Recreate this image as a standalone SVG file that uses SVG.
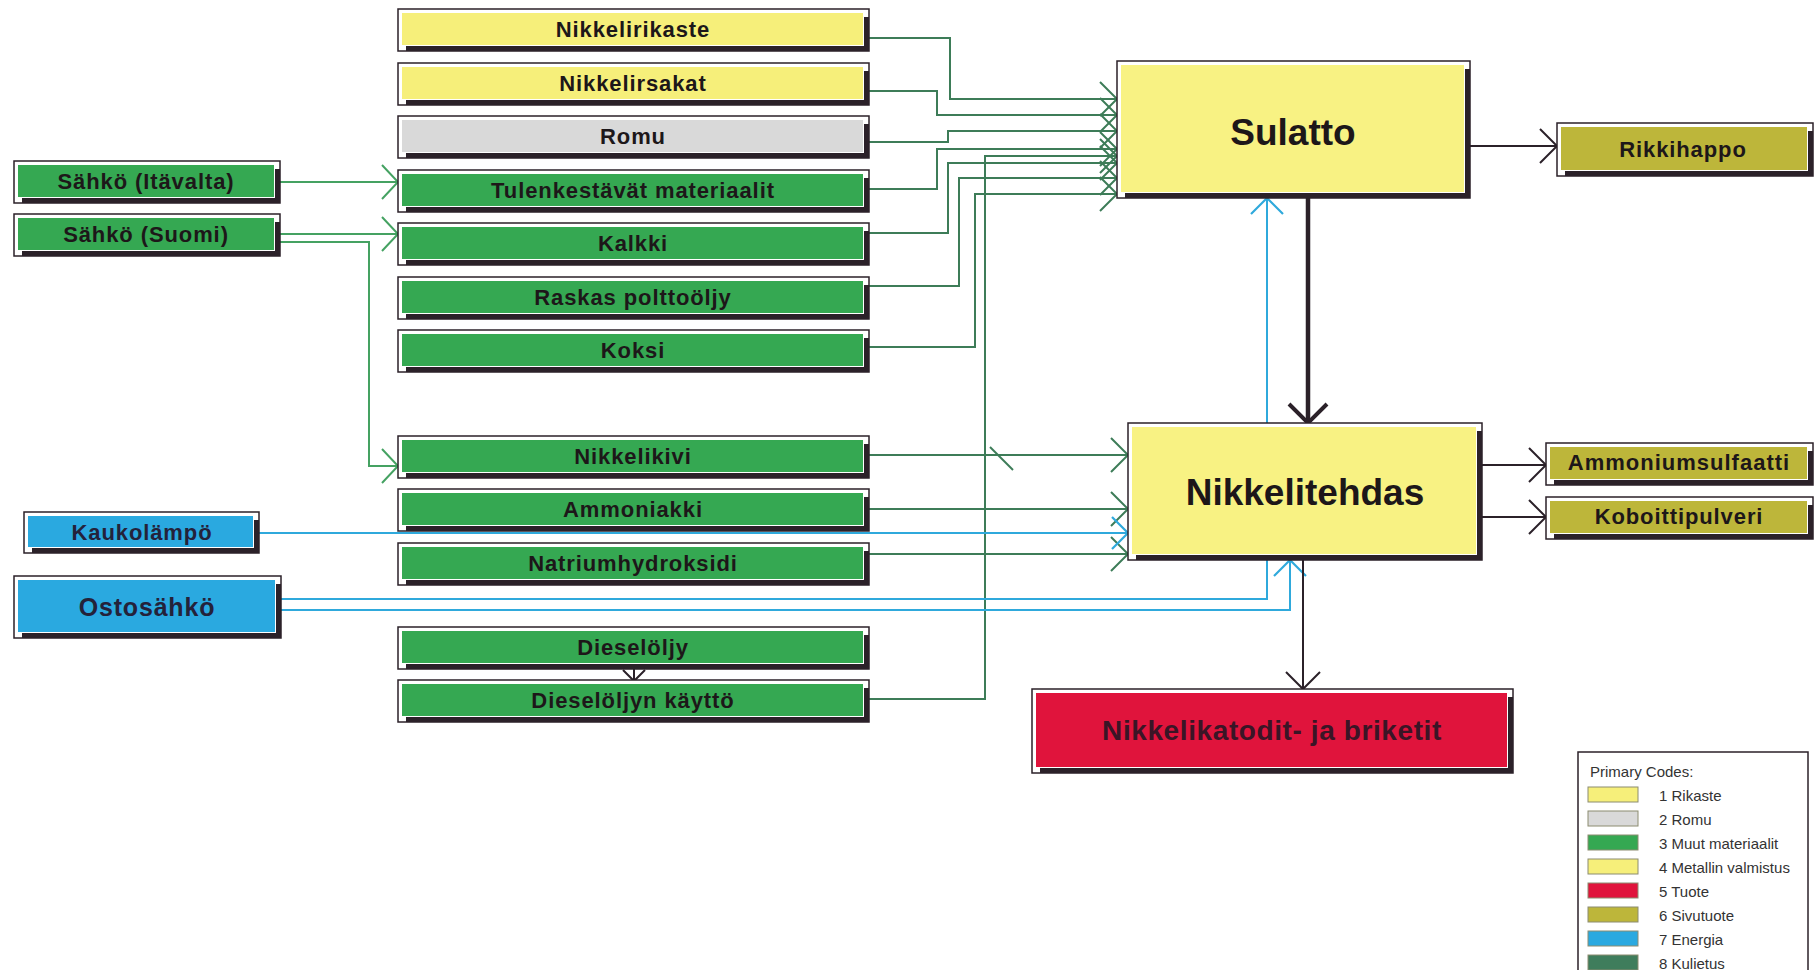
<svg xmlns="http://www.w3.org/2000/svg" width="1814" height="970" viewBox="0 0 1814 970">
  <style>
    .frame { fill: #ffffff; stroke: #2b2129; stroke-width: 1.5; }
    .shade { fill: #2b2129; }
    .c-yel { fill: #f6ef7a; }
    .c-yel2 { fill: #f8f283; }
    .c-gry { fill: #d9d9d9; }
    .c-grn { fill: #35a852; }
    .c-blu { fill: #2aa9e0; }
    .c-red { fill: #e0143c; }
    .c-olv { fill: #bdb63a; }
    .c-dgr { fill: #3f7d5c; }
    .lbl { font-family: "Liberation Sans", Arial, sans-serif; font-weight: bold; font-size: 22px; fill: #1d1719; text-anchor: middle; letter-spacing: 0.9px; }
    .big { font-size: 37px; letter-spacing: 0; }
    .prod { font-size: 28px; letter-spacing: 0.6px; fill: #3a1526; }
    .mid { font-size: 25px; letter-spacing: 0.8px; fill: #24223a; }
    .nav { fill: #24223a; }
    .wire { fill: none; stroke-width: 2; }
    .w-g { stroke: #3d7c58; marker-end: url(#ah-g); }
    .w-lg { stroke: #45a262; marker-end: url(#ah-lg); }
    .w-b { stroke: #2fa9dc; marker-end: url(#ah-b); }
    .w-d { stroke: #2b2129; marker-end: url(#ah-d); }
    .w-dk { stroke: #2b2129; stroke-width: 4.5; marker-end: url(#ah-dk); }
    .w-s { stroke: #2b2129; marker-end: url(#ah-s); }
    .legend { fill: #ffffff; stroke: #2b2129; stroke-width: 1.5; }
    .sw { stroke: #8c8c70; stroke-width: 1; }
    .ltx { font-family: "Liberation Sans", Arial, sans-serif; font-size: 15px; fill: #333333; }
  </style>
  <defs>
    <marker id="ah-g" markerUnits="userSpaceOnUse" viewBox="-20 -20 40 40" markerWidth="40" markerHeight="40" refX="0" refY="0" orient="auto">
      <path d="M-17,-17 L0,0 L-17,17" fill="none" stroke="#3d7c58" stroke-width="2"/>
    </marker>
    <marker id="ah-lg" markerUnits="userSpaceOnUse" viewBox="-20 -20 40 40" markerWidth="40" markerHeight="40" refX="0" refY="0" orient="auto">
      <path d="M-16,-17 L0,0 L-16,17" fill="none" stroke="#45a262" stroke-width="2"/>
    </marker>
    <marker id="ah-b" markerUnits="userSpaceOnUse" viewBox="-20 -20 40 40" markerWidth="40" markerHeight="40" refX="0" refY="0" orient="auto">
      <path d="M-16,-16 L0,0 L-16,16" fill="none" stroke="#2fa9dc" stroke-width="2.2"/>
    </marker>
    <marker id="ah-d" markerUnits="userSpaceOnUse" viewBox="-20 -20 40 40" markerWidth="40" markerHeight="40" refX="0" refY="0" orient="auto">
      <path d="M-17,-17 L0,0 L-17,17" fill="none" stroke="#2b2129" stroke-width="2"/>
    </marker>
    <marker id="ah-dk" markerUnits="userSpaceOnUse" viewBox="-22 -22 44 44" markerWidth="44" markerHeight="44" refX="0" refY="0" orient="auto">
      <path d="M-19,-19 L0,0 L-19,19" fill="none" stroke="#2b2129" stroke-width="4"/>
    </marker>
    <marker id="ah-s" markerUnits="userSpaceOnUse" viewBox="-12 -12 24 24" markerWidth="24" markerHeight="24" refX="0" refY="0" orient="auto">
      <path d="M-11,-11 L0,0 L-11,11" fill="none" stroke="#2b2129" stroke-width="2"/>
    </marker>
  </defs>

  <rect width="1814" height="970" fill="#ffffff"/>

  <!-- connectors -->
  <g id="connectors">
    <!-- inputs to Sulatto -->
    <path class="wire w-g" d="M869,38 H950 V99 H1117"/>
    <path class="wire w-g" d="M869,91 H937 V115 H1117"/>
    <path class="wire w-g" d="M869,142 H948 V131 H1117"/>
    <path class="wire w-g" d="M869,189 H937 V149 H1117"/>
    <path class="wire w-g" d="M869,699 H985 V156 H1117"/>
    <path class="wire w-g" d="M869,233 H948 V163 H1117"/>
    <path class="wire w-g" d="M869,286 H959 V178 H1117"/>
    <path class="wire w-g" d="M869,347 H975 V194 H1117"/>
    <!-- inputs to Nikkelitehdas -->
    <path class="wire w-g" d="M869,455 H1128"/>
    <path class="wire w-g" d="M869,509 H1128"/>
    <path class="wire w-g" d="M869,554 H1128"/>
    <path class="wire" stroke="#3d7c58" d="M990,447 L1013,470"/>
    <!-- electricity feeds -->
    <path class="wire w-lg" d="M280,182 H398"/>
    <path class="wire w-lg" d="M280,234 H398"/>
    <path class="wire w-lg" d="M280,242 H369 V466 H398"/>
    <!-- energy -->
    <path class="wire w-b" d="M259,533 H1128"/>
    <path class="wire w-b" d="M281,599 H1267 V198"/>
    <path class="wire w-b" d="M281,610 H1290 V560"/>
    <!-- process flow and outputs -->
    <path class="wire w-dk" d="M1308,198 V423"/>
    <path class="wire w-d" d="M1470,146 H1557"/>
    <path class="wire w-d" d="M1482,465 H1546"/>
    <path class="wire w-d" d="M1482,517 H1546"/>
    <path class="wire w-d" d="M1303,560 V689"/>
    <path class="wire w-s" d="M634,669 V681"/>
  </g>

  <!-- left column: materials -->
  <g id="n-nikkelirikaste">
    <rect class="frame" x="398" y="9" width="471" height="42"/>
    <rect class="c-yel" x="402" y="13" width="461" height="32"/>
    <rect class="shade" x="864" y="17" width="5" height="34"/><rect class="shade" x="406" y="46" width="463" height="5"/>
    <text class="lbl" x="633" y="37">Nikkelirikaste</text>
  </g>
  <g id="n-nikkelirsakat">
    <rect class="frame" x="398" y="63" width="471" height="42"/>
    <rect class="c-yel" x="402" y="67" width="461" height="32"/>
    <rect class="shade" x="864" y="71" width="5" height="34"/><rect class="shade" x="406" y="100" width="463" height="5"/>
    <text class="lbl" x="633" y="91">Nikkelirsakat</text>
  </g>
  <g id="n-romu">
    <rect class="frame" x="398" y="116" width="471" height="42"/>
    <rect class="c-gry" x="402" y="120" width="461" height="32"/>
    <rect class="shade" x="864" y="124" width="5" height="34"/><rect class="shade" x="406" y="153" width="463" height="5"/>
    <text class="lbl" x="633" y="144">Romu</text>
  </g>
  <g id="n-tulenkestavat">
    <rect class="frame" x="398" y="170" width="471" height="42"/>
    <rect class="c-grn" x="402" y="174" width="461" height="32"/>
    <rect class="shade" x="864" y="178" width="5" height="34"/><rect class="shade" x="406" y="207" width="463" height="5"/>
    <text class="lbl" x="633" y="198">Tulenkestävät materiaalit</text>
  </g>
  <g id="n-kalkki">
    <rect class="frame" x="398" y="223" width="471" height="42"/>
    <rect class="c-grn" x="402" y="227" width="461" height="32"/>
    <rect class="shade" x="864" y="231" width="5" height="34"/><rect class="shade" x="406" y="260" width="463" height="5"/>
    <text class="lbl" x="633" y="251">Kalkki</text>
  </g>
  <g id="n-raskas">
    <rect class="frame" x="398" y="277" width="471" height="42"/>
    <rect class="c-grn" x="402" y="281" width="461" height="32"/>
    <rect class="shade" x="864" y="285" width="5" height="34"/><rect class="shade" x="406" y="314" width="463" height="5"/>
    <text class="lbl" x="633" y="305">Raskas polttoöljy</text>
  </g>
  <g id="n-koksi">
    <rect class="frame" x="398" y="330" width="471" height="42"/>
    <rect class="c-grn" x="402" y="334" width="461" height="32"/>
    <rect class="shade" x="864" y="338" width="5" height="34"/><rect class="shade" x="406" y="367" width="463" height="5"/>
    <text class="lbl" x="633" y="358">Koksi</text>
  </g>
  <g id="n-nikkelikivi">
    <rect class="frame" x="398" y="436" width="471" height="42"/>
    <rect class="c-grn" x="402" y="440" width="461" height="32"/>
    <rect class="shade" x="864" y="444" width="5" height="34"/><rect class="shade" x="406" y="473" width="463" height="5"/>
    <text class="lbl" x="633" y="464">Nikkelikivi</text>
  </g>
  <g id="n-ammoniakki">
    <rect class="frame" x="398" y="489" width="471" height="42"/>
    <rect class="c-grn" x="402" y="493" width="461" height="32"/>
    <rect class="shade" x="864" y="497" width="5" height="34"/><rect class="shade" x="406" y="526" width="463" height="5"/>
    <text class="lbl" x="633" y="517">Ammoniakki</text>
  </g>
  <g id="n-natrium">
    <rect class="frame" x="398" y="543" width="471" height="42"/>
    <rect class="c-grn" x="402" y="547" width="461" height="32"/>
    <rect class="shade" x="864" y="551" width="5" height="34"/><rect class="shade" x="406" y="580" width="463" height="5"/>
    <text class="lbl" x="633" y="571">Natriumhydroksidi</text>
  </g>
  <g id="n-dieselolju">
    <rect class="frame" x="398" y="627" width="471" height="42"/>
    <rect class="c-grn" x="402" y="631" width="461" height="32"/>
    <rect class="shade" x="864" y="635" width="5" height="34"/><rect class="shade" x="406" y="664" width="463" height="5"/>
    <text class="lbl" x="633" y="655">Dieselöljy</text>
  </g>
  <g id="n-dieselkaytto">
    <rect class="frame" x="398" y="680" width="471" height="42"/>
    <rect class="c-grn" x="402" y="684" width="461" height="32"/>
    <rect class="shade" x="864" y="688" width="5" height="34"/><rect class="shade" x="406" y="717" width="463" height="5"/>
    <text class="lbl" x="633" y="708">Dieselöljyn käyttö</text>
  </g>

  <!-- far-left: energy sources -->
  <g id="n-sahko-itavalta">
    <rect class="frame" x="14" y="161" width="266" height="42"/>
    <rect class="c-grn" x="18" y="165" width="256" height="32"/>
    <rect class="shade" x="275" y="169" width="5" height="34"/><rect class="shade" x="22" y="198" width="258" height="5"/>
    <text class="lbl" x="146" y="189">Sähkö (Itävalta)</text>
  </g>
  <g id="n-sahko-suomi">
    <rect class="frame" x="14" y="214" width="266" height="42"/>
    <rect class="c-grn" x="18" y="218" width="256" height="32"/>
    <rect class="shade" x="275" y="222" width="5" height="34"/><rect class="shade" x="22" y="251" width="258" height="5"/>
    <text class="lbl" x="146" y="242">Sähkö (Suomi)</text>
  </g>
  <g id="n-kaukolampo">
    <rect class="frame" x="24" y="512" width="235" height="41"/>
    <rect class="c-blu" x="28" y="516" width="225" height="31"/>
    <rect class="shade" x="254" y="520" width="5" height="33"/><rect class="shade" x="32" y="548" width="227" height="5"/>
    <text class="lbl nav" x="142" y="540">Kaukolämpö</text>
  </g>
  <g id="n-ostosahko">
    <rect class="frame" x="14" y="576" width="267" height="62"/>
    <rect class="c-blu" x="18" y="580" width="257" height="52"/>
    <rect class="shade" x="276" y="584" width="5" height="54"/><rect class="shade" x="22" y="633" width="259" height="5"/>
    <text class="lbl mid" x="147" y="616">Ostosähkö</text>
  </g>

  <!-- process units -->
  <g id="n-sulatto">
    <rect class="frame" x="1117" y="61" width="353" height="137"/>
    <rect class="c-yel2" x="1121" y="65" width="343" height="127"/>
    <rect class="shade" x="1465" y="69" width="5" height="129"/><rect class="shade" x="1125" y="193" width="345" height="5"/>
    <text class="lbl big" x="1293" y="145">Sulatto</text>
  </g>
  <g id="n-nikkelitehdas">
    <rect class="frame" x="1128" y="423" width="354" height="137"/>
    <rect class="c-yel2" x="1132" y="427" width="344" height="127"/>
    <rect class="shade" x="1477" y="431" width="5" height="129"/><rect class="shade" x="1136" y="555" width="346" height="5"/>
    <text class="lbl big" x="1305" y="505">Nikkelitehdas</text>
  </g>
  <g id="n-katodit">
    <rect class="frame" x="1032" y="689" width="481" height="84"/>
    <rect class="c-red" x="1036" y="693" width="471" height="74"/>
    <rect class="shade" x="1508" y="697" width="5" height="76"/><rect class="shade" x="1040" y="768" width="473" height="5"/>
    <text class="lbl prod" x="1272" y="740">Nikkelikatodit- ja briketit</text>
  </g>

  <!-- by-products -->
  <g id="n-rikkihappo">
    <rect class="frame" x="1557" y="123" width="256" height="53"/>
    <rect class="c-olv" x="1561" y="127" width="246" height="43"/>
    <rect class="shade" x="1808" y="131" width="5" height="45"/><rect class="shade" x="1565" y="171" width="248" height="5"/>
    <text class="lbl" x="1683" y="157">Rikkihappo</text>
  </g>
  <g id="n-ammoniumsulfaatti">
    <rect class="frame" x="1546" y="443" width="267" height="42"/>
    <rect class="c-olv" x="1550" y="447" width="257" height="32"/>
    <rect class="shade" x="1808" y="451" width="5" height="34"/><rect class="shade" x="1554" y="480" width="259" height="5"/>
    <text class="lbl" x="1679" y="470" style="letter-spacing:1px">Ammoniumsulfaatti</text>
  </g>
  <g id="n-koboittipulveri">
    <rect class="frame" x="1546" y="497" width="267" height="42"/>
    <rect class="c-olv" x="1550" y="501" width="257" height="32"/>
    <rect class="shade" x="1808" y="505" width="5" height="34"/><rect class="shade" x="1554" y="534" width="259" height="5"/>
    <text class="lbl" x="1679" y="524">Koboittipulveri</text>
  </g>

  <!-- legend -->
  <g id="legend">
    <rect class="legend" x="1578" y="752" width="230" height="230"/>
    <text class="ltx" x="1590" y="777">Primary Codes:</text>
    <rect class="sw c-yel" x="1588" y="787" width="50" height="15"/>
    <text class="ltx" x="1659" y="801">1 Rikaste</text>
    <rect class="sw c-gry" x="1588" y="811" width="50" height="15"/>
    <text class="ltx" x="1659" y="825">2 Romu</text>
    <rect class="sw c-grn" x="1588" y="835" width="50" height="15"/>
    <text class="ltx" x="1659" y="849">3 Muut materiaalit</text>
    <rect class="sw c-yel" x="1588" y="859" width="50" height="15"/>
    <text class="ltx" x="1659" y="873">4 Metallin valmistus</text>
    <rect class="sw c-red" x="1588" y="883" width="50" height="15"/>
    <text class="ltx" x="1659" y="897">5 Tuote</text>
    <rect class="sw c-olv" x="1588" y="907" width="50" height="15"/>
    <text class="ltx" x="1659" y="921">6 Sivutuote</text>
    <rect class="sw c-blu" x="1588" y="931" width="50" height="15"/>
    <text class="ltx" x="1659" y="945">7 Energia</text>
    <rect class="sw c-dgr" x="1588" y="955" width="50" height="15"/>
    <text class="ltx" x="1659" y="969">8 Kulietus</text>
  </g>
</svg>
